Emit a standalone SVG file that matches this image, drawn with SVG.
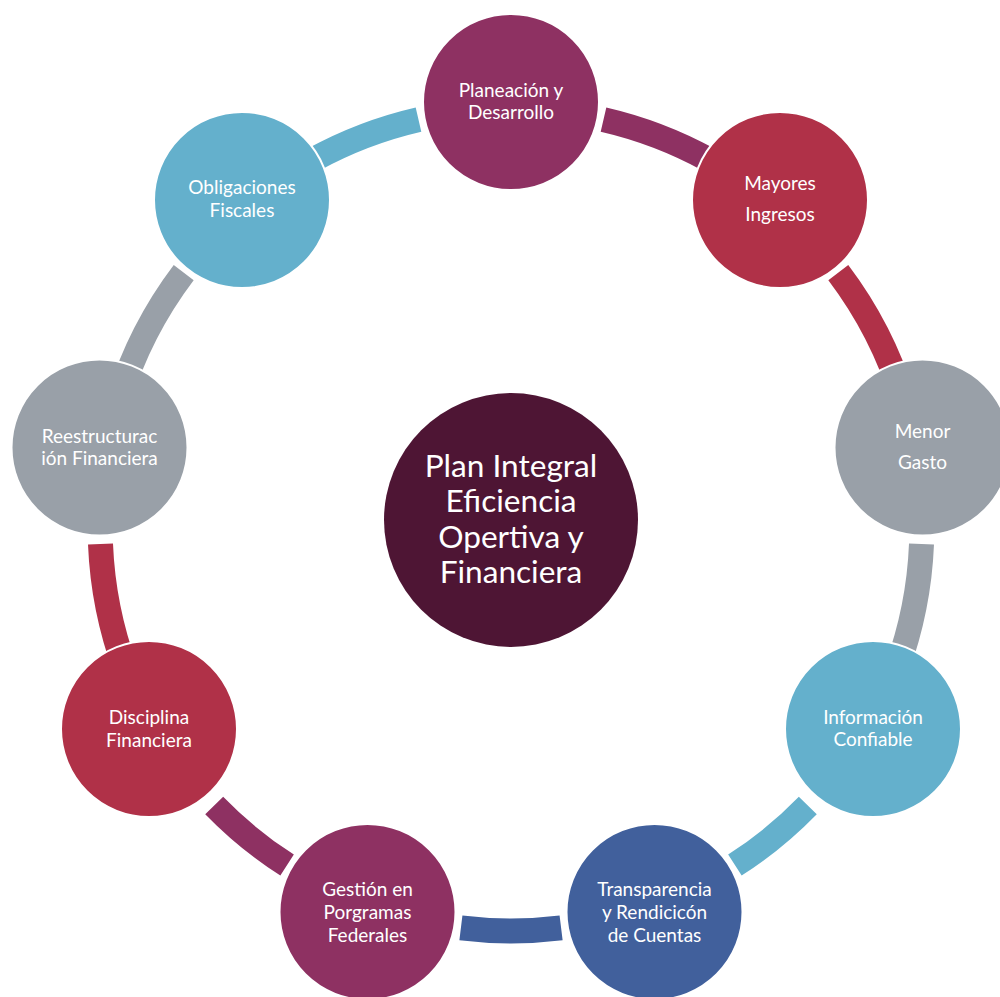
<svg xmlns="http://www.w3.org/2000/svg" width="1000" height="997" viewBox="0 0 1000 997">
<style>
.n{stroke:#fff;stroke-width:2}
.t{font-family:Lato,"Open Sans","Liberation Sans",sans-serif;font-size:19px;fill:#fff;text-anchor:middle}
.c{font-family:Lato,"Open Sans","Liberation Sans",sans-serif;font-size:31.6px;fill:#fff;text-anchor:middle}
.a{fill:none;stroke-width:25;stroke-linecap:butt}
</style>
<rect width="1000" height="997" fill="#fff"/>
<g id="connectors">
<path class="a" stroke="#8E3162" d="M603.5,119.6 A411,411 0 0 1 708.9,159.8"/>
<path class="a" stroke="#B03148" d="M838.3,272.6 A411,411 0 0 1 903.4,399.8"/>
<path class="a" stroke="#99A0A8" d="M921.5,543.9 A411,411 0 0 1 896.5,669.3"/>
<path class="a" stroke="#64B0CC" d="M807.8,805.5 A411,411 0 0 1 734.9,865.1"/>
<path class="a" stroke="#41609C" d="M561.1,927.9 A411,411 0 0 1 460.9,927.9"/>
<path class="a" stroke="#8E3162" d="M287.1,865.1 A411,411 0 0 1 214.2,805.5"/>
<path class="a" stroke="#B03148" d="M125.5,669.3 A411,411 0 0 1 100.5,543.9"/>
<path class="a" stroke="#99A0A8" d="M118.6,399.8 A411,411 0 0 1 183.7,272.6"/>
<path class="a" stroke="#64B0CC" d="M313.1,159.8 A411,411 0 0 1 418.5,119.6"/>
</g>
<g id="center">
<circle cx="511" cy="520" r="127" fill="#4E1534"/>
<text class="c" x="511" y="477">Plan Integral</text>
<text class="c" x="511" y="512">Eficiencia</text>
<text class="c" x="511" y="548">Opertiva y</text>
<text class="c" x="511" y="583">Financiera</text>
</g>
<g id="n1">
<circle class="n" cx="511" cy="102" r="88" fill="#8E3162"/>
<text class="t" x="511" y="97">Planeación y</text>
<text class="t" x="511" y="119">Desarrollo</text>
</g>
<g id="n2">
<circle class="n" cx="780" cy="200" r="88" fill="#B03148"/>
<text class="t" x="780" y="190">Mayores</text>
<text class="t" x="780" y="221">Ingresos</text>
</g>
<g id="n3">
<circle class="n" cx="922.5" cy="447.5" r="88" fill="#99A0A8"/>
<text class="t" x="922.5" y="438">Menor</text>
<text class="t" x="922.5" y="469">Gasto</text>
</g>
<g id="n4">
<circle class="n" cx="873" cy="729" r="88" fill="#64B0CC"/>
<text class="t" x="873" y="724">Información</text>
<text class="t" x="873" y="746">Confiable</text>
</g>
<g id="n5">
<circle class="n" cx="654.5" cy="912" r="88" fill="#41609C"/>
<text class="t" x="654.5" y="896">Transparencia</text>
<text class="t" x="654.5" y="919">y Rendicicón</text>
<text class="t" x="654.5" y="942">de Cuentas</text>
</g>
<g id="n6">
<circle class="n" cx="367.5" cy="912" r="88" fill="#8E3162"/>
<text class="t" x="367.5" y="896">Gestión en</text>
<text class="t" x="367.5" y="919">Porgramas</text>
<text class="t" x="367.5" y="942">Federales</text>
</g>
<g id="n7">
<circle class="n" cx="149" cy="729" r="88" fill="#B03148"/>
<text class="t" x="149" y="724">Disciplina</text>
<text class="t" x="149" y="747">Financiera</text>
</g>
<g id="n8">
<circle class="n" cx="99.5" cy="447.5" r="88" fill="#99A0A8"/>
<text class="t" x="99.5" y="443">Reestructurac</text>
<text class="t" x="99.5" y="465">ión Financiera</text>
</g>
<g id="n9">
<circle class="n" cx="242" cy="200" r="88" fill="#64B0CC"/>
<text class="t" x="242" y="194">Obligaciones</text>
<text class="t" x="242" y="217">Fiscales</text>
</g>
</svg>
